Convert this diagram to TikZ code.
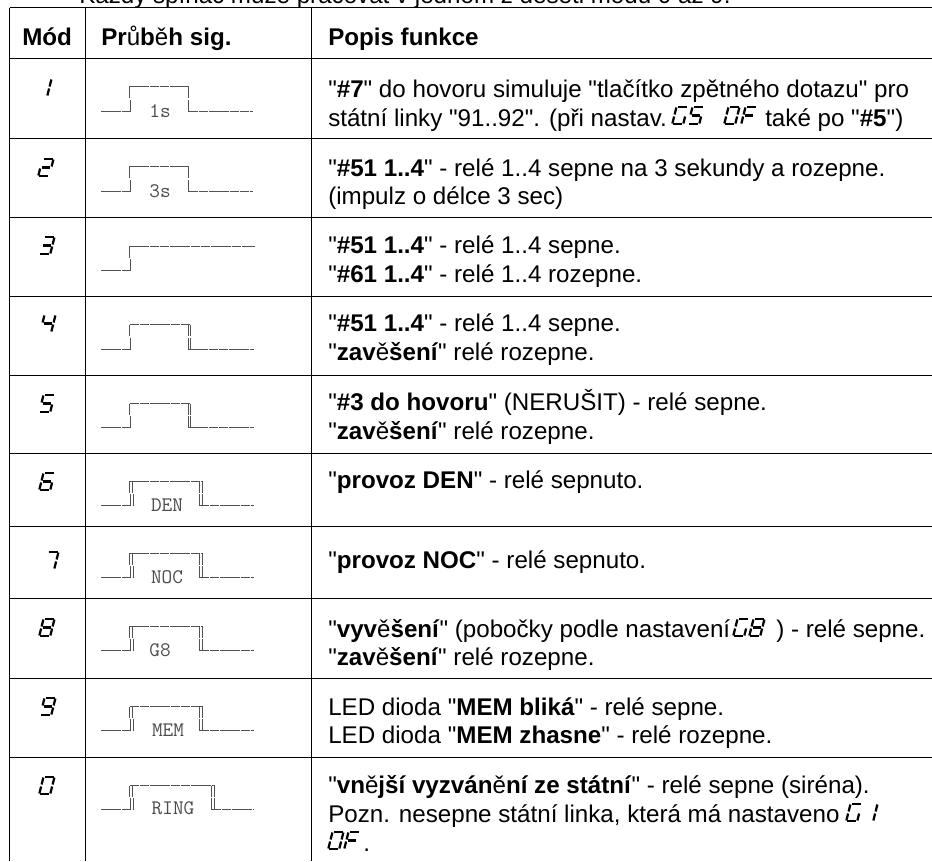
\documentclass[tikz,border=0pt]{standalone}
\usepackage{fontspec}
\setmainfont[Ligatures=TeXOff]{Liberation Sans}
\newcommand\rg[1]{{\normalfont #1}}
\newcommand\bd[1]{\textbf{#1}}
% seven segment glyph segments, local px, baseline origin
\newcommand\segdraw[1]{\draw[segline] #1;}
\newcommand\sega{\segdraw{(1.8,-18.2)--(10,-18.2)}}
\newcommand\segb{\segdraw{(11,-17.5)--(11,-10.5)}}
\newcommand\segc{\segdraw{(11,-8.5)--(11,-1.5)}}
\newcommand\segd{\segdraw{(1.2,-.8)--(9.6,-.8)}}
\newcommand\sege{\segdraw{(0,-8.5)--(0,-1.5)}}
\newcommand\segf{\segdraw{(0,-17.5)--(0,-10.5)}}
\newcommand\segg{\segdraw{(1.5,-9.5)--(9.5,-9.5)}}
% name, x, bottom y, segments, text
\newcommand\sevdig[5]{%
  \node[opacity=0,anchor=base west,inner sep=0pt,font=\fontsize{18}{20}\selectfont\itshape] (#1) at (#2,#3) {#5};
  \begin{scope}[shift={(#2,#3)},xslant=.25]
    \foreach \s in {#4}{\csname seg\s\endcsname}
  \end{scope}}
% low, high, rise x, rise gap, fall x, fall gap, end x
\newcommand\wave[7]{%
  \draw[sigline] (101,#1)--(#3+1,#1);
  \draw[sigline] (#3,#2)--(#5+#6,#2);
  \draw[sigline] (#5,#1)--(#7,#1);
  \foreach \e in {0,#4}{
    \draw[sigedge] (#3+\e,#2)--(#3+\e,{(#1+#2)/2-.8});
    \draw[sigedge] (#3+\e+1,{(#1+#2)/2+.8})--(#3+\e+1,#1);}
  \foreach \e in {0,#6}{
    \draw[sigedge] (#5+\e,#2)--(#5+\e,{(#1+#2)/2-.8});
    \draw[sigedge] (#5+\e,{(#1+#2)/2+.8})--(#5+\e,#1);}}
\tikzset{
  grid/.style={line width=.75pt,black},
  segline/.style={line width=1.7pt,black},
  sigline/.style={line width=.75pt,black!68,dash pattern=on 7.2pt off .5pt},
  sigedge/.style={line width=.75pt,black!68},
  txt/.style={anchor=base west,inner sep=0pt,font=\fontsize{18.12}{20}\selectfont},
  hdr/.style={anchor=base west,inner sep=0pt,font=\fontsize{18.12}{20}\selectfont\bfseries},
  siglabel/.style={anchor=base,inner sep=0pt,font=\ttfamily\fontsize{15.5}{17}\selectfont,text=black!70},
}
\begin{document}
\begin{tikzpicture}[x=.75pt,y=-.75pt]
\useasboundingbox (0,0) rectangle (932,861);
\fill[white] (0,0) rectangle (932,861);
\begin{scope}
\clip (0,0) rectangle (932,861);
\node[txt] (intro) at (79,3) {Každý spínač může pracovat v jednom z deseti módů 0 až 9.};
\foreach \y in {7.5,58.5,138.5,217.5,296.5,375.5,453.5,526.5,598.5,678.5,757.5}{
  \draw[grid] (9.5,\y)--(932,\y);}
\foreach \x in {9.5,85.5,311.5}{
  \draw[grid] (\x,7.5)--(\x,861);}
% header
\node[hdr] (h1) at (22,45) {Mód};
\node[hdr] (h2) at (101,45) {Pr\rg{ů}b\rg{ě}h sig.};
\node[hdr] (h3) at (328,45) {Popis funkce};
% mode digits
\sevdig{m1}{36}{97}{b,c}{1}
\sevdig{m2}{38}{177}{a,b,g,e,d}{2}
\sevdig{m3}{39}{255}{a,b,g,c,d}{3}
\sevdig{m4}{40}{333}{f,g,b,c}{4}
\sevdig{m5}{39}{413}{a,f,g,c,d}{5}
\sevdig{m6}{39}{491}{a,f,g,e,c,d}{6}
\sevdig{m7}{43}{570}{a,b,c}{7}
\sevdig{m8}{39}{637}{a,b,c,d,e,f,g}{8}
\sevdig{m9}{40}{716}{a,b,c,d,f,g}{9}
\sevdig{m0}{39}{795}{a,b,c,d,e,f}{0}
% waves
\wave{111.5}{86.5}{129}{0}{188.5}{0}{253}
\wave{191.5}{166.5}{129}{0}{188.5}{0}{253}
\draw[sigline] (101,270.5)--(130,270.5);
\draw[sigline] (129,246.5)--(255,246.5);
\draw[sigedge] (129,246.5)--(129,257.7);
\draw[sigedge] (130,259.3)--(130,270.5);
\wave{349.5}{324.5}{129.5}{0}{188}{2.8}{254}
\wave{427.5}{403.5}{129.5}{0}{188}{2.8}{254}
\wave{505.5}{481.5}{129}{3}{199.5}{3}{254}
\wave{577.5}{553.5}{129}{3}{199.5}{3}{254}
\wave{650.5}{626.5}{129}{3}{199.5}{3}{254}
\wave{730.5}{706.5}{129.5}{3}{199.5}{3}{254}
\wave{809.5}{785.5}{129.5}{3}{211.5}{3}{254}
\node[siglabel] (l1) at (160,117) {1s};
\node[siglabel] (l2) at (160,197) {3s};
\node[siglabel] (l6) at (167,511) {DEN};
\node[siglabel] (l7) at (167,583) {NOC};
\node[siglabel] (l8) at (160,656) {G8};
\node[siglabel] (l9) at (168,736) {MEM};
\node[siglabel] (l0) at (173,814) {RING};
% descriptions
\node[txt] (r1a) at (328,97) {"\bd{\#7}" do hovoru simuluje "tlačítko zpětného dotazu" pro};
\node[txt] (r1b) at (328,126) {státní linky "91..92". (při nastav.};
\sevdig{s1}{672}{125}{a,f,e,d,c}{G}
\sevdig{s2}{688}{125}{a,f,g,c,d}{5}
\sevdig{s3}{724}{125}{a,b,c,d,e,f}{0}
\sevdig{s4}{741}{125}{a,f,g,e}{F}
\node[txt] (r1c) at (765,126) {také po "\bd{\#5}")};
\node[txt] (r2a) at (328,176) {"\bd{\#51 1..4}" - relé 1..4 sepne na 3 sekundy a rozepne.};
\node[txt] (r2b) at (328,204) {(impulz o délce 3 sec)};
\node[txt] (r3a) at (328,253) {"\bd{\#51 1..4}" - relé 1..4 sepne.};
\node[txt] (r3b) at (328,282) {"\bd{\#61 1..4}" - relé 1..4 rozepne.};
\node[txt] (r4a) at (328,331) {"\bd{\#51 1..4}" - relé 1..4 sepne.};
\node[txt] (r4b) at (328,360) {"\bd{zav\rg{ě}šení}" relé rozepne.};
\node[txt] (r5a) at (328,410) {"\bd{\#3 do hovoru}" (NERUŠIT) - relé sepne.};
\node[txt] (r5b) at (328,439) {"\bd{zav\rg{ě}šení}" relé rozepne.};
\node[txt] (r6a) at (328,488) {"\bd{provoz DEN}" - relé sepnuto.};
\node[txt] (r7a) at (328,568) {"\bd{provoz NOC}" - relé sepnuto.};
\node[txt] (r8a) at (328,637) {"\bd{vyv\rg{ě}šení}" (pobočky podle nastavení};
\sevdig{s5}{733}{637}{a,f,e,d,c}{G}
\sevdig{s6}{749}{637}{a,b,c,d,e,f,g}{8}
\node[txt] (r8c) at (776,637) {) - relé sepne.};
\node[txt] (r8b) at (328,665) {"\bd{zav\rg{ě}šení}" relé rozepne.};
\node[txt] (r9a) at (328,715) {LED dioda "\bd{MEM bliká}" - relé sepne.};
\node[txt] (r9b) at (328,743) {LED dioda "\bd{MEM zhasne}" - relé rozepne.};
\node[txt] (r0a) at (328,793) {"\bd{vn\rg{ě}jší vyzván\rg{ě}ní ze státní}" - relé sepne (siréna).};
\node[txt] (r0b) at (328,822) {Pozn. nesepne státní linka, která má nastaveno};
\sevdig{s7}{846}{822}{a,f,e,d,c}{G}
\sevdig{s8}{862}{822}{b,c}{1}
\sevdig{s9}{328}{850}{a,b,c,d,e,f}{0}
\sevdig{s10}{344}{850}{a,f,g,e}{F}
\node[txt] (r0c) at (363,851) {.};
\end{scope}
\end{tikzpicture}
\end{document}
